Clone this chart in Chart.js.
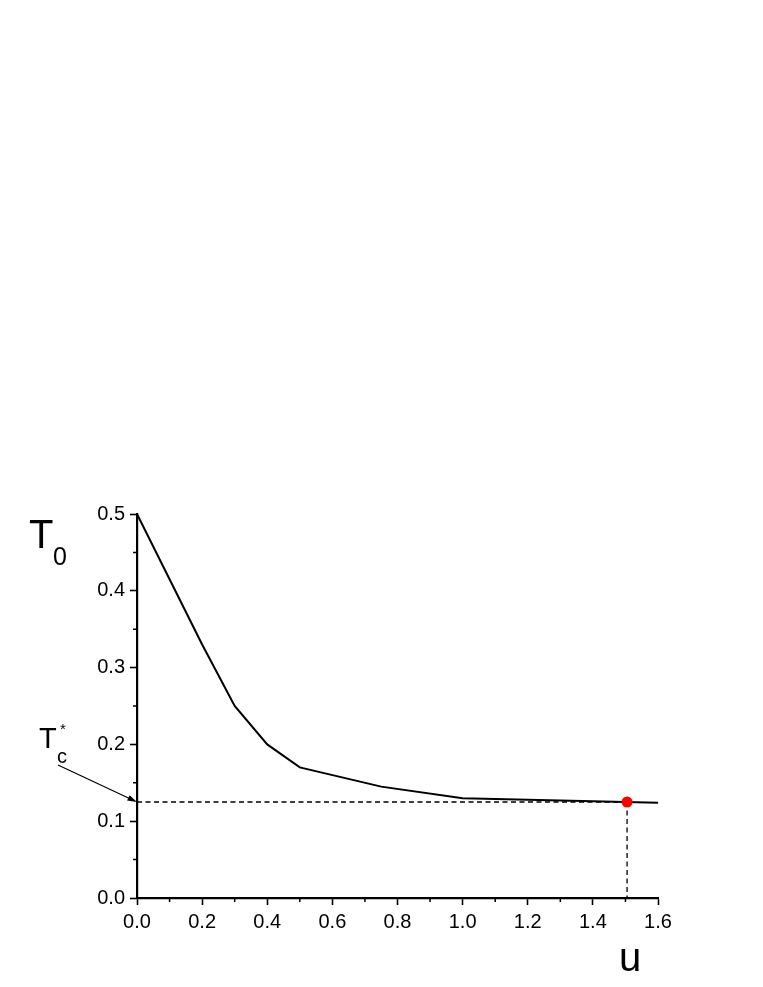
<!DOCTYPE html>
<html>
<head>
<meta charset="utf-8">
<title>T0 vs u</title>
<script src="https://cdn.jsdelivr.net/npm/chart.js@4.4.1/dist/chart.umd.min.js"></script>
<style>
  html, body { margin: 0; padding: 0; background: #fff; }
  #wrap { width: 763px; height: 987px; position: relative; }
</style>
</head>
<body>
<div id="wrap"><canvas id="chart"></canvas></div>
<script>
'use strict';

/* ── Data ── */
const uVals  = [0, 0.1, 0.2, 0.3, 0.4, 0.5, 0.75, 1.0, 1.5, 1.6];
const t0Vals = [0.5, 0.415, 0.33, 0.25, 0.2, 0.17, 0.145, 0.13, 0.125, 0.124];
const uStar  = 1.505;   // red marker / vertical guide
const tcStar = 0.125;   // T_c* horizontal guide
const xTicks = [0, 0.2, 0.4, 0.6, 0.8, 1.0, 1.2, 1.4, 1.6];
const yTicks = [0, 0.1, 0.2, 0.3, 0.4, 0.5];

const FONT = '"Liberation Sans", Arial, sans-serif';

const curve = uVals.map((u, i) => ({ x: u, y: t0Vals[i] }));

/* ── Minor ticks, axis titles, T_c* arrow ── */
const decorPlugin = {
  id: 'decor',
  afterDraw(chart) {
    const { ctx, chartArea: a, scales: { x, y } } = chart;
    ctx.save();
    ctx.strokeStyle = '#000';
    ctx.lineWidth = 1.5;

    // minor ticks halfway between majors
    ctx.beginPath();
    for (let i = 0; i < xTicks.length - 1; i++) {
      const px = x.getPixelForValue((xTicks[i] + xTicks[i + 1]) / 2);
      ctx.moveTo(px, a.bottom);
      ctx.lineTo(px, a.bottom + 4);
    }
    for (let i = 0; i < yTicks.length - 1; i++) {
      const py = y.getPixelForValue((yTicks[i] + yTicks[i + 1]) / 2);
      ctx.moveTo(a.left, py);
      ctx.lineTo(a.left - 4, py);
    }
    ctx.stroke();

    ctx.fillStyle = '#000';
    ctx.textBaseline = 'alphabetic';
    ctx.textAlign = 'left';

    // y title T0
    ctx.font = '40px ' + FONT;
    ctx.fillText('T', 29, 548);
    ctx.font = '25px ' + FONT;
    ctx.fillText('0', 53, 565);

    // x title u
    ctx.font = '40px ' + FONT;
    ctx.fillText('u', 619, 971);

    // T_c* label
    ctx.font = '29px ' + FONT;
    ctx.fillText('T', 39, 748);
    ctx.font = '20px ' + FONT;
    ctx.fillText('c', 57, 763);
    ctx.font = '15px ' + FONT;
    ctx.fillText('*', 60, 734);

    // arrow to the T_c* level on the y axis
    const tx = x.getPixelForValue(0);
    const ty = y.getPixelForValue(tcStar);
    const sx = 58, sy = 765;
    const ang = Math.atan2(ty - sy, tx - sx);
    ctx.lineWidth = 1.2;
    ctx.beginPath();
    ctx.moveTo(sx, sy);
    ctx.lineTo(tx - 3 * Math.cos(ang), ty - 3 * Math.sin(ang));
    ctx.stroke();
    ctx.beginPath();
    ctx.moveTo(tx, ty);
    ctx.lineTo(tx - 10 * Math.cos(ang - 0.3), ty - 10 * Math.sin(ang - 0.3));
    ctx.lineTo(tx - 10 * Math.cos(ang + 0.3), ty - 10 * Math.sin(ang + 0.3));
    ctx.closePath();
    ctx.fill();

    ctx.restore();
  },
};

new Chart(document.getElementById('chart'), {
  type: 'scatter',
  data: {
    datasets: [
      {
        label: 'T0',
        data: curve,
        showLine: true,
        borderColor: '#000',
        borderWidth: 2,
        pointRadius: 0,
        tension: 0,
        order: 2,
      },
      {
        label: 'Tc guide',
        data: [{ x: 0, y: tcStar }, { x: uStar, y: tcStar }],
        showLine: true,
        borderColor: '#000',
        borderWidth: 1.3,
        borderDash: [5, 3.5],
        pointRadius: 0,
        order: 3,
      },
      {
        label: 'u guide',
        data: [{ x: uStar, y: tcStar }, { x: uStar, y: 0 }],
        showLine: true,
        borderColor: '#000',
        borderWidth: 1.3,
        borderDash: [5, 3.5],
        pointRadius: 0,
        order: 3,
      },
      {
        label: 'critical point',
        data: [{ x: uStar, y: tcStar }],
        pointRadius: 5.5,
        pointBackgroundColor: '#ff0000',
        pointBorderColor: '#ff0000',
        pointBorderWidth: 0,
        order: 1,
      },
    ],
  },
  options: {
    responsive: true,
    maintainAspectRatio: false,
    animation: false,
    layout: { padding: { top: 514, right: 105, left: 0, bottom: 0 } },
    plugins: { legend: { display: false }, tooltip: { enabled: false } },
    scales: {
      x: {
        type: 'linear',
        min: 0,
        max: 1.6,
        afterFit: s => { s.height = 89; },
        afterBuildTicks: s => { s.ticks = xTicks.map(v => ({ value: v })); },
        border: { display: true, color: '#000', width: 2.2 },
        grid: { drawOnChartArea: false, drawTicks: true, tickLength: 7, tickWidth: 1.6, tickColor: '#000' },
        ticks: {
          color: '#000',
          font: { family: FONT, size: 20 },
          padding: 5,
          maxRotation: 0,
          callback: v => v.toFixed(1),
        },
      },
      y: {
        type: 'linear',
        min: 0,
        max: 0.5,
        afterFit: s => { s.width = 137; },
        afterBuildTicks: s => { s.ticks = yTicks.map(v => ({ value: v })); },
        border: { display: true, color: '#000', width: 2.2 },
        grid: { drawOnChartArea: false, drawTicks: true, tickLength: 7, tickWidth: 1.6, tickColor: '#000' },
        ticks: {
          color: '#000',
          font: { family: FONT, size: 20 },
          padding: 5,
          callback: v => v.toFixed(1),
        },
      },
    },
  },
  plugins: [decorPlugin],
});
</script>
</body>
</html>
